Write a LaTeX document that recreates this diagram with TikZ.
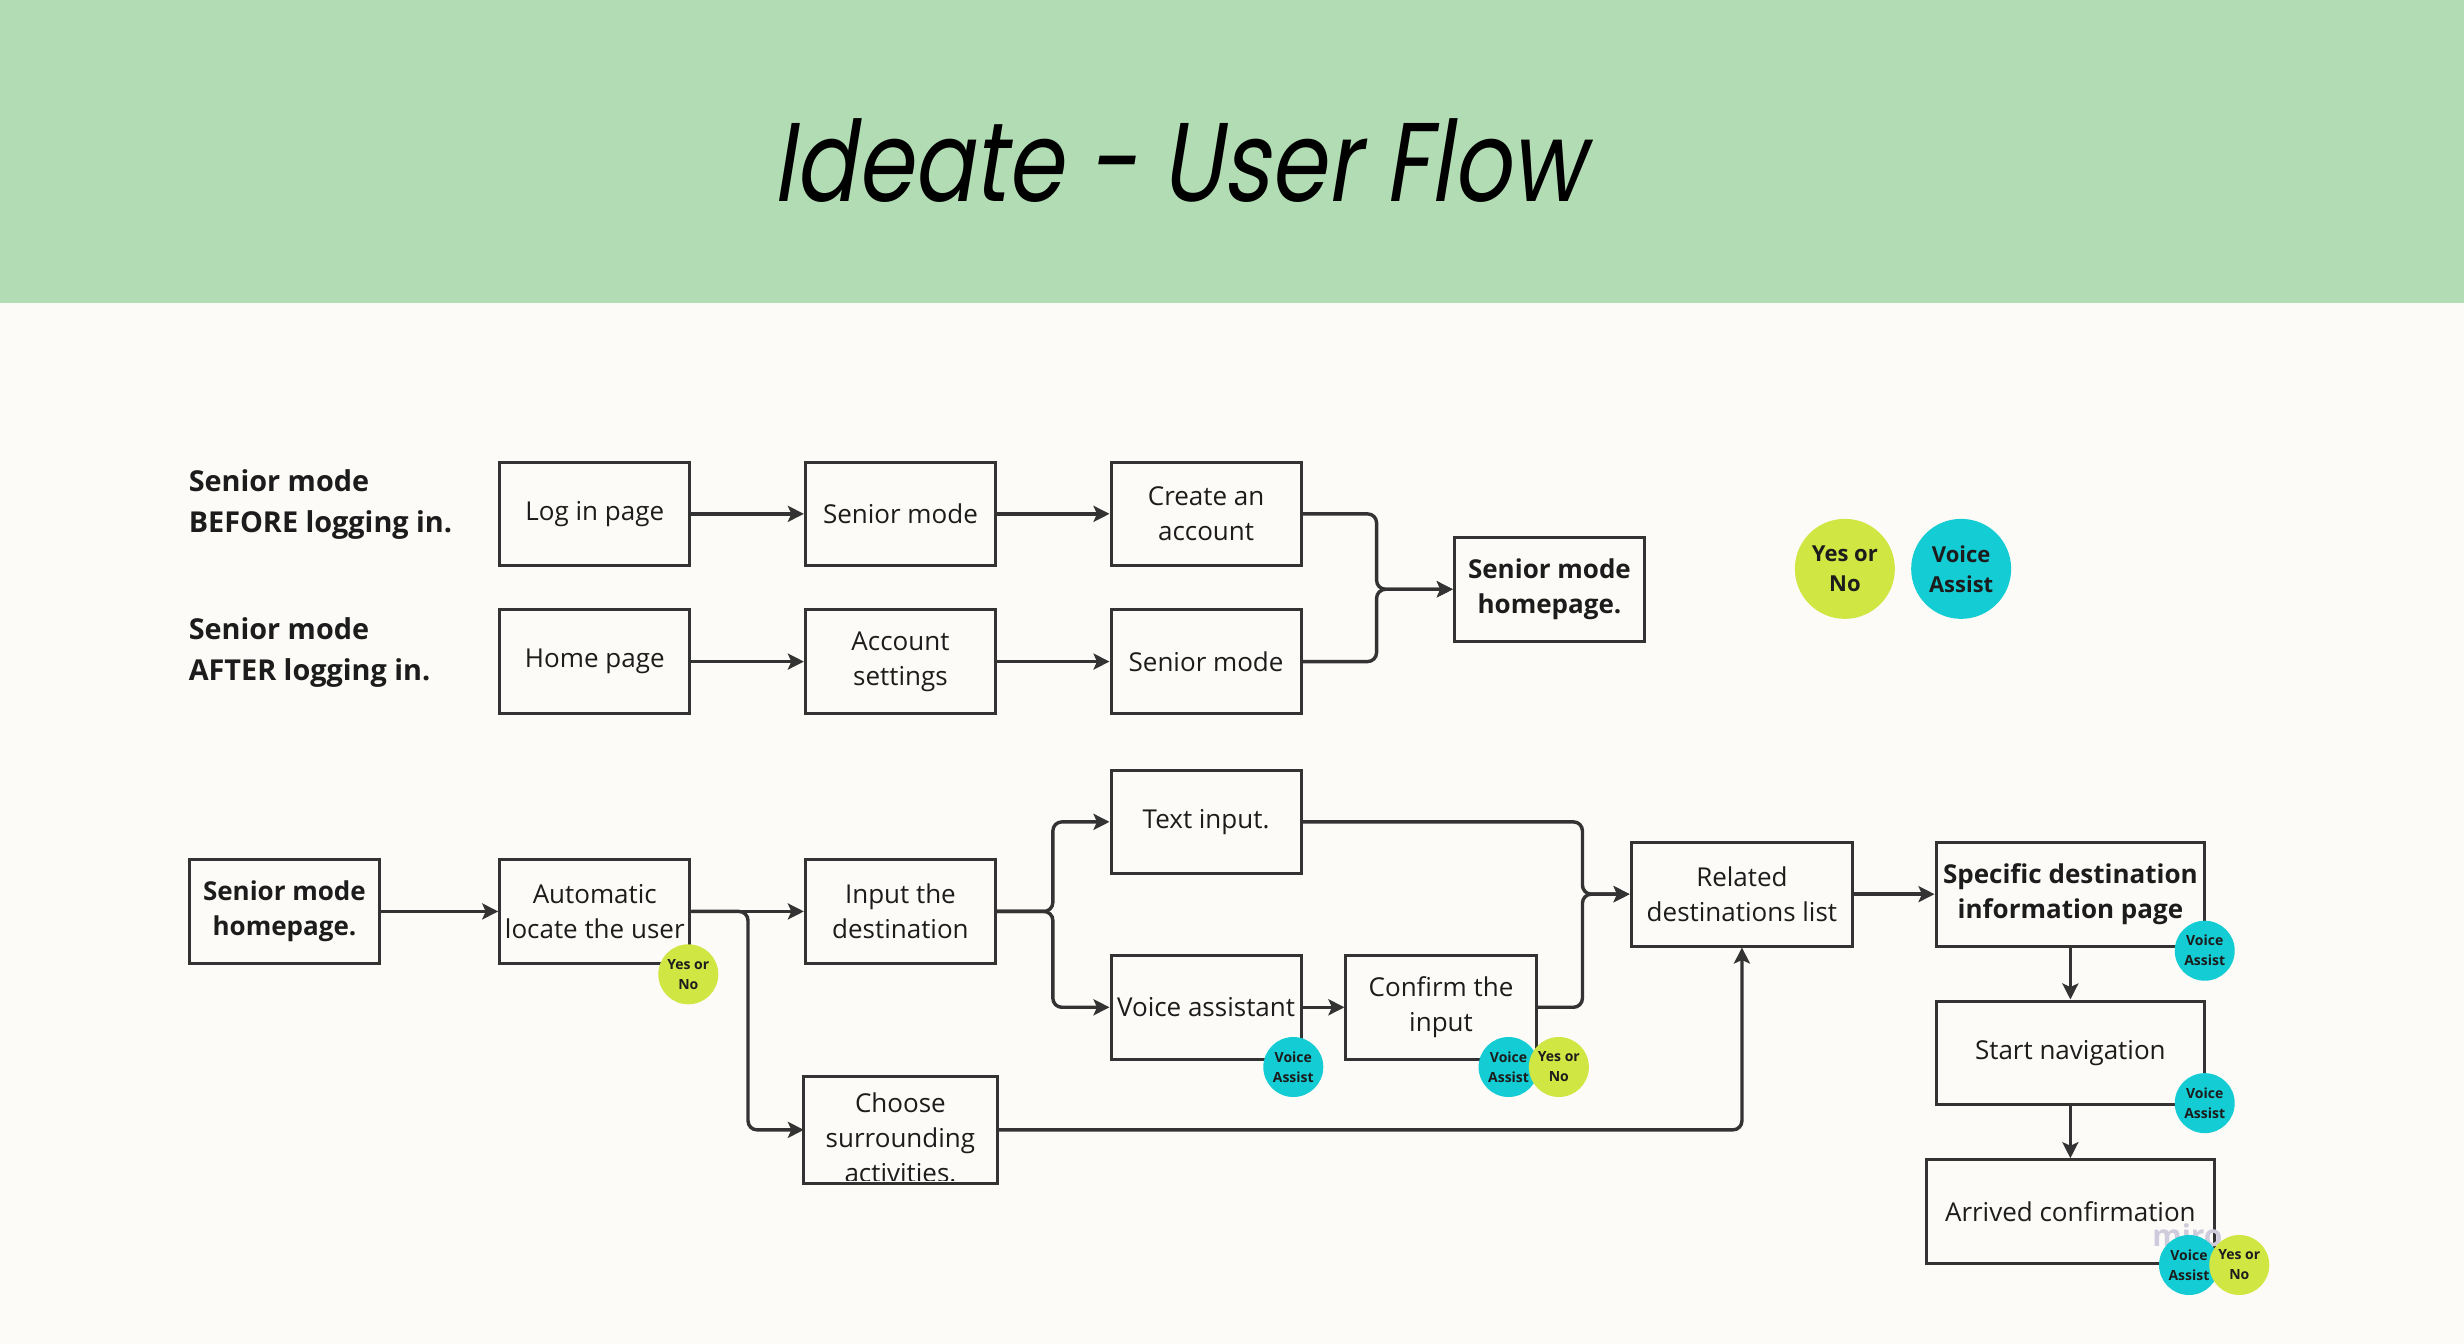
\documentclass[tikz,border=0pt]{standalone}
\usepackage{graphicx}
\usepackage{fontspec}
\setmainfont{Open Sans}
\newfontfamily\titlefont[FakeSlant=0.2]{Poppins}
\usetikzlibrary{arrows.meta}
\definecolor{hdr}{HTML}{B2DDB4}
\definecolor{paper}{HTML}{FCFBF7}
\definecolor{ink}{HTML}{333333}
\definecolor{yn}{HTML}{CFE643}
\definecolor{va}{HTML}{14CDD4}
\definecolor{txt}{HTML}{1C1C1C}
\definecolor{wm}{HTML}{CFCBDD}
\tikzset{
  pbox/.style args={#1/#2}{draw=ink, line width=3pt, fill=paper, minimum width=#1*1.5714pt, minimum height=#2*1.5714pt, inner sep=0pt, align=center, text=txt, font=\fontsize{26pt}{35pt}\selectfont},
  boldtxt/.style={font=\fontsize{26pt}{35pt}\selectfont\bfseries},
  sidelabel/.style={anchor=west, align=left, text=txt, inner sep=0pt, font=\fontsize{28.8pt}{41pt}\selectfont\bfseries},
  ysmall/.style={circle, fill=yn, minimum size=60pt, inner sep=0pt, align=center, text=txt, font=\fontsize{14pt}{20pt}\selectfont\bfseries},
  vsmall/.style={circle, fill=va, minimum size=60pt, inner sep=0pt, align=center, text=txt, font=\fontsize{14pt}{20pt}\selectfont\bfseries},
  ybig/.style={circle, fill=yn, minimum size=100pt, inner sep=0pt, align=center, text=txt, font=\fontsize{22pt}{30pt}\selectfont\bfseries},
  vbig/.style={circle, fill=va, minimum size=100pt, inner sep=0pt, align=center, text=txt, font=\fontsize{22pt}{30pt}\selectfont\bfseries},
  conn/.style={draw=ink, line width=3.4pt, rounded corners=9pt},
  arr/.style={conn, -{Stealth[length=16pt,width=16pt,inset=3.5pt]}}
}
\begin{document}
\begin{tikzpicture}[x=1.5714pt,y=-1.5714pt]
\useasboundingbox (0,0) rectangle (1568,855);
\fill[paper] (0,0) rectangle (1568,855);
\fill[hdr] (0,0) rectangle (1568,193);
\node[anchor=base, inner sep=0pt, text=black] (title) at (750,128)
  {\titlefont\fontsize{112pt}{112pt}\selectfont\scalebox{0.81}[1]{Ideate - User Flow}};

% side labels
\node[sidelabel] (lab1) at (120,321) {Senior mode\\BEFORE logging in.};
\node[sidelabel] (lab2) at (120,415) {Senior mode\\AFTER logging in.};

% top rows
\node[pbox=121/66] (login) at (378.5,327) {Log in page};
\node[pbox=121/66] (sm1) at (573,327) {Senior mode};
\node[pbox=121/66] (create) at (767.5,327) {Create an\\account};
\node[pbox=121/66, boldtxt] (smhome1) at (986,375) {Senior mode\\homepage.};
\node[pbox=121/66] (home) at (378.5,421) {Home page};
\node[pbox=121/66] (acct) at (573,421) {Account\\settings};
\node[pbox=121/66] (sm2) at (767.5,421) {Senior mode};

\draw[arr] (login) -- (sm1);
\draw[arr] (sm1) -- (create);
\draw[arr] (home) -- (acct);
\draw[arr] (acct) -- (sm2);
\coordinate (j1) at (876,375);
\draw[arr] (create.east) -| (j1) -- (smhome1.west);
\draw[arr] (sm2.east) -| (j1) -- (smhome1.west);

% legend bubbles
\node[ybig] (legyn) at (1174,362) {Yes or\\No};
\node[vbig] (legva) at (1248,362) {Voice\\Assist};

% bottom flow
\node[pbox=121/66, boldtxt] (smhome2) at (181,580) {Senior mode\\homepage.};
\node[pbox=121/66] (auto) at (378.5,580) {Automatic\\locate the user};
\node[pbox=121/66] (input) at (573,580) {Input the\\destination};
\node[pbox=121/66, draw=none] (choose) at (573,719) {};
\begin{scope}
  \clip (513,686) rectangle (633,751);
  \node[align=center, text=txt, inner sep=0pt, font=\fontsize{26pt}{35pt}\selectfont] (choosetxt) at (573,724) {Choose\\surrounding\\activities.};
\end{scope}
\draw[draw=ink, line width=3pt] (choose.north west) rectangle (choose.south east);
\node[pbox=121/66] (text) at (767.5,523) {Text input.};
\node[pbox=121/66] (voice) at (767.5,641) {Voice assistant};
\node[pbox=121/66] (confirm) at (917,641) {Confirm the\\input};
\node[pbox=141/66] (related) at (1108.5,569) {Related\\destinations list};
\node[pbox=171/66, boldtxt] (specific) at (1317.5,569) {Specific destination\\information page};
\node[pbox=171/66] (start) at (1317.5,670) {Start navigation};
\node[pbox=183/66] (arrived) at (1317.5,771) {Arrived confirmation};

\draw[arr] (smhome2) -- (auto);
\draw[arr] (auto) -- (input);
\coordinate (j2) at (476,580);
\draw[arr] (auto.east) -- (j2) |- (choose.west);
\coordinate (j3) at (670,580);
\draw[arr] (input.east) -- (j3) |- (text.west);
\draw[arr] (input.east) -- (j3) |- (voice.west);
\draw[arr] (voice) -- (confirm);
\coordinate (j4) at (1007,569);
\draw[arr] (text.east) -| (j4) -- (related.west);
\draw[arr] (confirm.east) -| (j4) -- (related.west);
\draw[arr] (choose.east) -| (related.south);
\draw[arr] (related) -- (specific);
\draw[arr] (specific) -- (start);
\draw[arr] (start) -- (arrived);

% watermark
\node[text=wm, inner sep=0pt, font=\fontsize{30pt}{30pt}\selectfont\bfseries] (miro) at (1392,786) {miro};

% small bubbles
\node[ysmall] (b1) at (438,620) {Yes or\\No};
\node[vsmall] (b2) at (823,679) {Voice\\Assist};
\node[vsmall] (b3) at (960,679) {Voice\\Assist};
\node[ysmall] (b4) at (992,679) {Yes or\\No};
\node[vsmall] (b5) at (1403,605) {Voice\\Assist};
\node[vsmall] (b6) at (1403,702) {Voice\\Assist};
\node[vsmall] (b7) at (1393,805) {Voice\\Assist};
\node[ysmall] (b8) at (1425,805) {Yes or\\No};
\end{tikzpicture}
\end{document}
